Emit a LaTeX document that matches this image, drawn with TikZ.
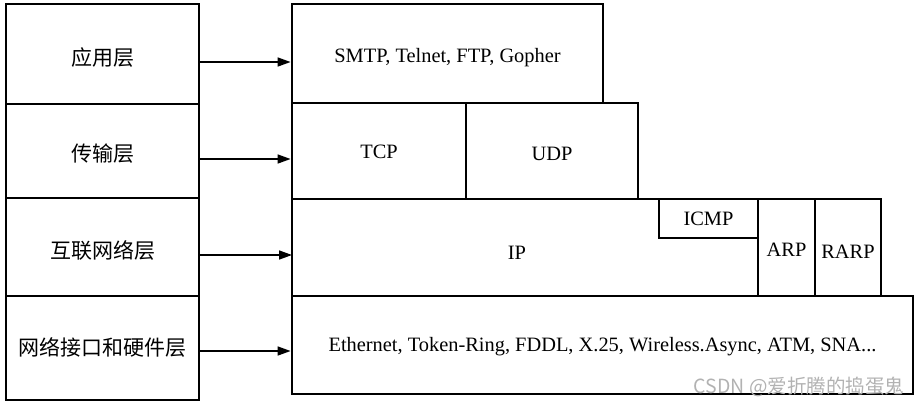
\documentclass[tikz,border=0pt]{standalone}
\usepackage{fontspec}
\setmainfont{Liberation Serif}
\newfontfamily\cjk{Noto Sans CJK SC}
\usetikzlibrary{arrows.meta}
\newcommand{\dnby}[2]{\raisebox{-#1pt}[0pt][0pt]{#2}}
\begin{document}
\begin{tikzpicture}[x=1pt,y=-1pt,
  box/.style={draw,line width=2.8pt,inner sep=0pt,rectangle,anchor=center},
  lbl/.style={font=\cjk\fontsize{21}{25}\selectfont},
  txt/.style={font=\fontsize{20.4}{24}\selectfont},
  arr/.style={line width=1.5pt,-{Triangle[length=13pt,width=9pt]}},
  wm/.style={font=\cjk\fontsize{19.5}{22}\selectfont,text=black!30}]
\useasboundingbox (0,0) rectangle (920,408);
% left column
\node[box,lbl,minimum width=193pt,minimum height=100pt] (L1) at (102.5,54) {\dnby{11.5}{应用层}};
\node[box,lbl,minimum width=193pt,minimum height=94pt] (L2) at (102.5,151) {\dnby{10.8}{传输层}};
\node[box,lbl,minimum width=193pt,minimum height=98pt] (L3) at (102.5,247) {\dnby{11.5}{互联网络层}};
\node[box,lbl,minimum width=193pt,minimum height=104pt] (L4) at (102.5,348) {\dnby{7.8}{网络接口和硬件层}};
% right column
\node[box,txt,minimum width=311pt,minimum height=99pt] (R1) at (447.5,53.5) {\dnby{9.25}{SMTP, Telnet, FTP, Gopher}};
\node[box,txt,minimum width=174pt,minimum height=96pt] (TCP) at (379,151) {\dnby{7.75}{TCP}};
\node[box,txt,minimum width=172pt,minimum height=96pt] (UDP) at (552,151) {\dnby{9.75}{UDP}};
\draw[line width=2.8pt,line join=miter] (292,199) -- (659,199) -- (659,238) -- (758,238) -- (758,296) -- (292,296) -- cycle;
\node[txt,inner sep=0pt] (IP) at (517,253) {\dnby{6.75}{IP}};
\node[box,txt,minimum width=99pt,minimum height=39pt] (ICMP) at (708.5,218.5) {\dnby{7.25}{ICMP}};
\node[box,txt,minimum width=57pt,minimum height=97pt] (ARP) at (786.5,247.5) {\dnby{9.25}{ARP}};
\node[box,txt,minimum width=66pt,minimum height=97pt] (RARP) at (848,247.5) {\dnby{11}{RARP}};
\node[box,txt,minimum width=621pt,minimum height=98pt] (ETH) at (602.5,345) {\dnby{6.75}{Ethernet, Token-Ring, FDDL, X.25, Wireless.Async, ATM, SNA...}};
\coordinate (IPw) at (292,255);
% arrows
\draw[arr] (L1.east |- 0,62) -- (R1.west |- 0,62);
\draw[arr] (L2.east |- 0,159) -- (TCP.west |- 0,159);
\draw[arr] (L3.east |- 0,255) -- (IPw);
\draw[arr] (L4.east |- 0,351) -- (ETH.west |- 0,351);
% watermark
\node[wm] (WM) at (799,387) {CSDN @爱折腾的捣蛋鬼};
\end{tikzpicture}
\end{document}
